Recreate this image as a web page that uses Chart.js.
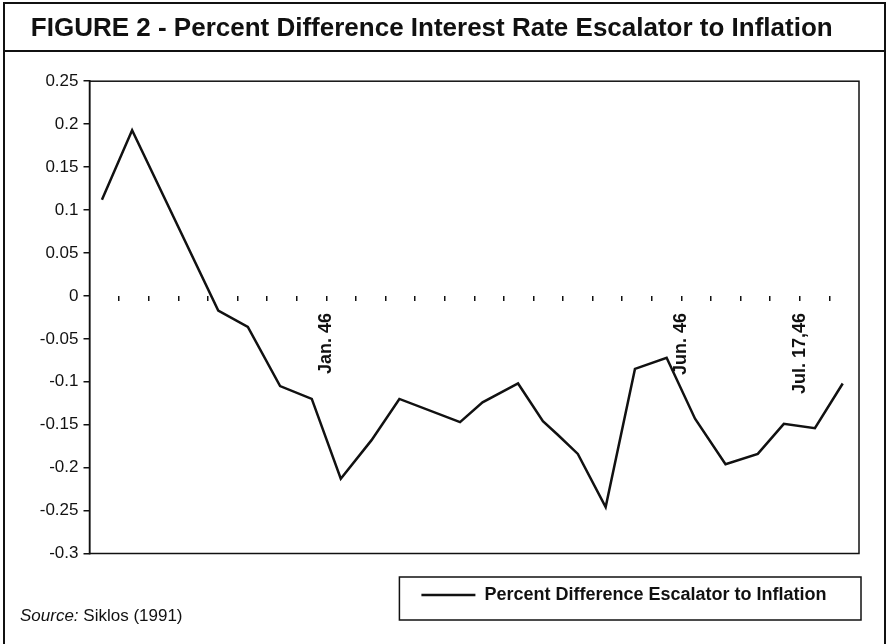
<!DOCTYPE html>
<html>
<head>
<meta charset="utf-8">
<script src="https://cdn.jsdelivr.net/npm/chart.js@4/dist/chart.umd.min.js"></script>
<style>
  body { margin: 0; background: #fff; }
  #wrap { position: relative; width: 888px; height: 644px; background: #fff; }
  #source {
    position: absolute; left: 20px; top: 606px;
    font: 17px 'Liberation Sans', Arial, sans-serif; line-height: 20px; color: #111;
  }
</style>
</head>
<body>
<div id="wrap">
  <canvas id="escalatorChart"></canvas>
  <div id="source"><i>Source:</i> Siklos (1991)</div>
</div>
<script>
// Datos (posición en periodos del eje x, valor en el eje y)
const periods = [0.42, 1.44, 4.35, 5.35, 6.44, 7.51, 8.49, 9.53, 10.47, 12.52, 13.28, 14.48,
                 15.32, 15.83, 16.50, 17.44, 18.43, 19.50, 20.46, 21.49, 22.58, 23.46, 24.51, 25.45];
const percentDiff = [0.112, 0.193, -0.017, -0.036, -0.105, -0.120, -0.213, -0.168, -0.120, -0.147, -0.124, -0.102,
                     -0.146, -0.162, -0.184, -0.246, -0.085, -0.072, -0.143, -0.196, -0.184, -0.149, -0.154, -0.102];

// Etiquetas del eje x (solo algunas marcas tienen texto)
const tickPositions = [8, 20, 24];
const tickLabels = ['Jan. 46', 'Jun. 46', 'Jul. 17,46'];

const seriesLabel = 'Percent Difference Escalator to Inflation';
const chartTitle = 'FIGURE 2 - Percent Difference Interest Rate Escalator to Inflation';

const FONT = "'Liberation Sans', Arial, sans-serif";
const INK = '#111';

// Marcos: figura, banda del título, área del gráfico y caja de la leyenda
const framePlugin = {
  id: 'figureFrame',
  afterDraw(chart) {
    const ctx = chart.ctx;
    const area = chart.chartArea;
    ctx.save();
    ctx.strokeStyle = INK;

    ctx.lineWidth = 1.5;
    ctx.strokeRect(area.left, area.top, area.right - area.left, area.bottom - area.top);

    ctx.lineWidth = 2;
    ctx.strokeRect(4, 3, 881, 650);
    ctx.beginPath();
    ctx.moveTo(4, 51);
    ctx.lineTo(885, 51);
    ctx.stroke();

    const hit = chart.legend.legendHitBoxes[0];
    if (hit) {
      const left = hit.left - 22;
      ctx.lineWidth = 1.5;
      ctx.strokeRect(left, hit.top - 9, area.right + 2 - left, 43);
    }
    ctx.restore();
  }
};

const ctx = document.getElementById('escalatorChart');
new Chart(ctx, {
  type: 'line',
  data: {
    datasets: [{
      label: seriesLabel,
      data: periods.map((p, i) => ({ x: p, y: percentDiff[i] })),
      borderColor: INK,
      backgroundColor: INK,
      borderWidth: 2.5,
      pointRadius: 0,
      tension: 0,
      fill: false
    }]
  },
  options: {
    responsive: true,
    maintainAspectRatio: false,
    animation: false,
    layout: {
      padding: { left: 4.5, right: 29, top: 0, bottom: 30 }
    },
    plugins: {
      title: {
        display: true,
        text: chartTitle,
        color: INK,
        font: { family: FONT, size: 26, weight: 'bold' },
        padding: { top: 13, bottom: 37 }
      },
      legend: {
        position: 'bottom',
        align: 'end',
        labels: {
          color: INK,
          font: { family: FONT, size: 18, weight: 'bold' },
          usePointStyle: true,
          pointStyle: 'line',
          pointStyleWidth: 54,
          padding: 32.5
        }
      },
      tooltip: { enabled: false }
    },
    scales: {
      x: {
        type: 'linear',
        position: { y: 0 },
        min: 0,
        max: 26,
        // el eje va sobre la línea del cero: no ocupa sitio en el layout
        afterFit(scale) {
          scale.height = 0;
          scale.paddingLeft = 0;
          scale.paddingRight = 0;
        },
        border: { display: false },
        grid: {
          drawOnChartArea: false,
          drawTicks: true,
          tickLength: 5,
          lineWidth: 1.5,
          tickColor: (c) => (c.tick && c.tick.value % 26 === 0 ? 'rgba(0,0,0,0)' : INK)
        },
        ticks: {
          stepSize: 1,
          autoSkip: false,
          minRotation: 90,
          maxRotation: 90,
          padding: 12,
          color: INK,
          font: { family: FONT, size: 18, weight: 'bold' },
          callback(value) {
            const k = tickPositions.indexOf(value);
            return k >= 0 ? tickLabels[k] : '';
          }
        }
      },
      y: {
        min: -0.3,
        max: 0.25,
        afterFit(scale) { scale.width = 85; },
        border: { display: true, color: INK, width: 1.5 },
        grid: {
          drawOnChartArea: false,
          drawTicks: true,
          tickLength: 6,
          color: INK,
          lineWidth: 1.5
        },
        ticks: {
          stepSize: 0.05,
          padding: 5,
          color: INK,
          font: { family: FONT, size: 17 },
          callback(value) {
            return String(Number(value.toFixed(2)));
          }
        }
      }
    }
  },
  plugins: [framePlugin]
});
</script>
</body>
</html>
